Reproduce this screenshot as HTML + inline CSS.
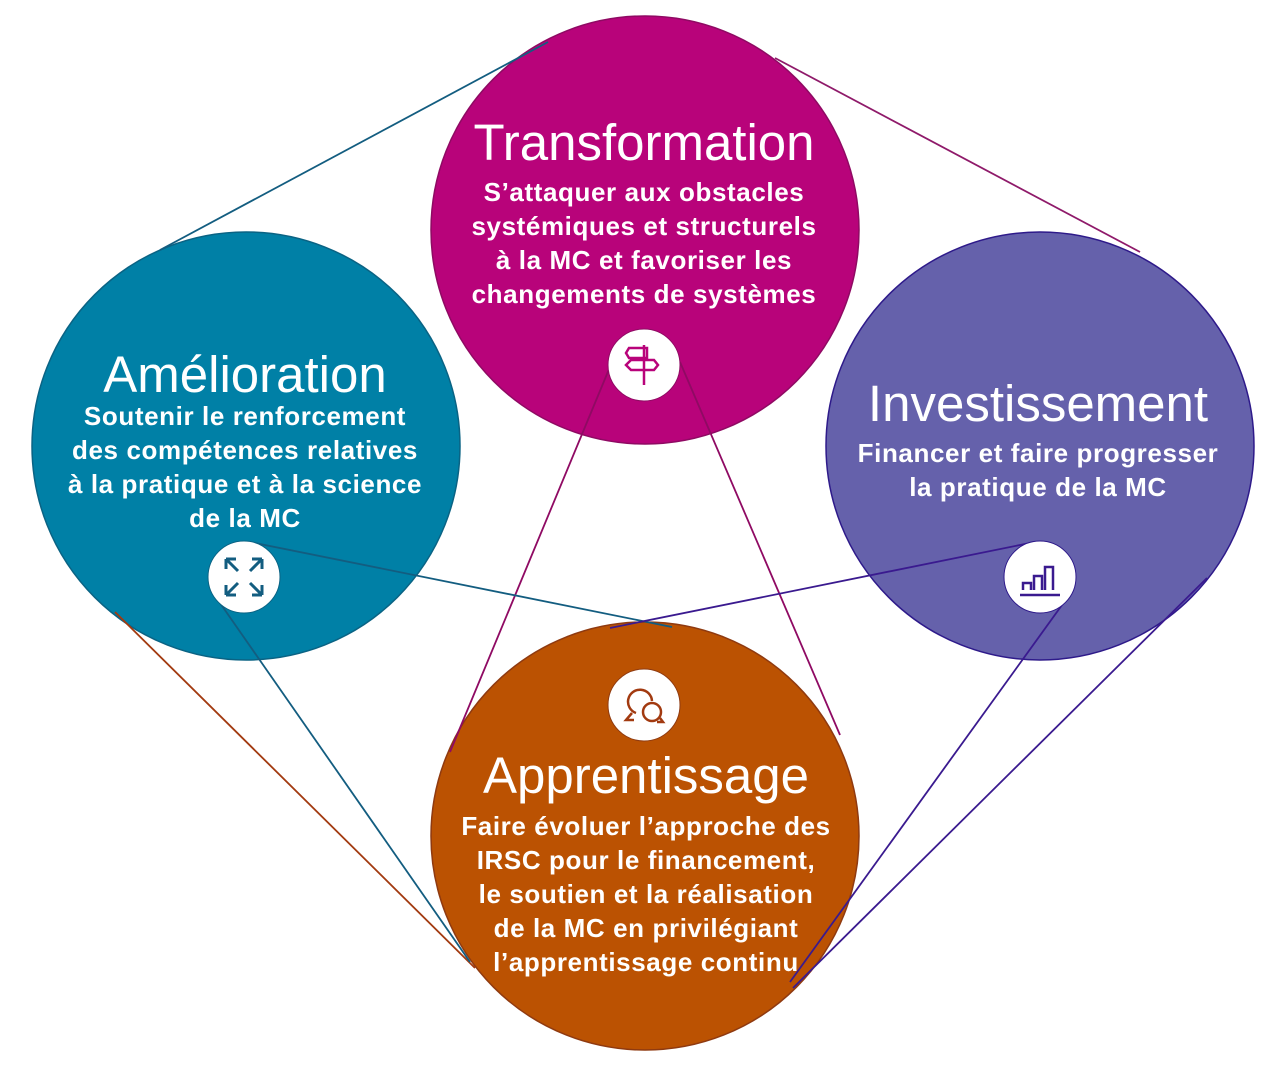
<!DOCTYPE html>
<html><head><meta charset="utf-8"><style>
html,body{margin:0;padding:0;background:#fff;}
svg{display:block}
text{font-family:"Liberation Sans",sans-serif;fill:#fff;text-anchor:middle}
.t{font-size:51px}
.s{font-size:26px;font-weight:bold;letter-spacing:0.6px}
</style></head><body>
<svg width="1275" height="1080" viewBox="0 0 1275 1080">
<circle cx="645" cy="230" r="214" fill="#b8037a" stroke="#8f0a63" stroke-width="1.5"/>
<circle cx="246" cy="446" r="214" fill="#0080a6" stroke="#0a6384" stroke-width="1.5"/>
<circle cx="1040" cy="446" r="214" fill="#6561ab" stroke="#2e1a8a" stroke-width="1.5"/>
<circle cx="645" cy="836" r="214" fill="#bb5202" stroke="#8f3a10" stroke-width="1.5"/>
<g fill="none" stroke-width="1.8">
<line x1="548" y1="42" x2="160" y2="250" stroke="#135d80"/>
<line x1="775" y1="58" x2="1140" y2="252" stroke="#8f1a6a"/>
<line x1="115" y1="612" x2="475" y2="968" stroke="#a23a10"/>
<line x1="1207" y1="578" x2="793" y2="988" stroke="#3a1a8f"/>
<line x1="612" y1="362" x2="450" y2="752" stroke="#8f0a63"/>
<line x1="680" y1="362" x2="840" y2="735" stroke="#8f0a63"/>
<line x1="250" y1="542" x2="672" y2="627" stroke="#135d80"/>
<line x1="1035" y1="542" x2="610" y2="628" stroke="#3a1a8f"/>
<line x1="220" y1="603" x2="470" y2="962" stroke="#135d80"/>
<line x1="1062" y1="605" x2="790" y2="982" stroke="#3a1a8f"/>
</g>
<circle cx="644" cy="365" r="36" fill="#fff" stroke="#8f0a63" stroke-width="1"/>
<circle cx="244" cy="577" r="36" fill="#fff" stroke="#0a6384" stroke-width="1"/>
<circle cx="1040" cy="577" r="36" fill="#fff" stroke="#2e1a8a" stroke-width="1"/>
<circle cx="644" cy="705" r="36" fill="#fff" stroke="#8f3a10" stroke-width="1"/>
<g fill="none" stroke="#b8037a" stroke-width="2.5">
<path d="M644 345v40M629 348h18v10h-18l-3-5zM631 360h23l4 5-4 5h-23l-5-5z"/>
</g>
<g fill="none" stroke="#135d80" stroke-width="3">
<path d="M226 559l12 12M226 559h10M226 559v10M262 559l-12 12M262 559h-10M262 559v10M226 595l12-12M226 595h10M226 595v-10M262 595l-12-12M262 595h-10M262 595v-10"/>
</g>
<g fill="none" stroke="#3a1a8f" stroke-width="2.5">
<path d="M1020 595h40M1023 590v-7h8v7M1034 590v-14h8v14M1045 590v-23h8v23"/>
</g>
<g fill="none" stroke="#a23a10" stroke-width="2.5">
<path d="M636 713a12 12 0 1 1 16-12M632 713l-6 7h8"/>
<circle cx="652" cy="712" r="9"/><path d="M660 718l3 4h-6"/>
</g>
<text class="t" x="644" y="160">Transformation</text>
<text class="s" x="644" y="201">S’attaquer aux obstacles</text>
<text class="s" x="644" y="235">systémiques et structurels</text>
<text class="s" x="644" y="269">à la MC et favoriser les</text>
<text class="s" x="644" y="303">changements de systèmes</text>
<text class="t" x="245" y="392">Amélioration</text>
<text class="s" x="245" y="425">Soutenir le renforcement</text>
<text class="s" x="245" y="459">des compétences relatives</text>
<text class="s" x="245" y="493">à la pratique et à la science</text>
<text class="s" x="245" y="527">de la MC</text>
<text class="t" x="1038" y="421">Investissement</text>
<text class="s" x="1038" y="462">Financer et faire progresser</text>
<text class="s" x="1038" y="496">la pratique de la MC</text>
<text class="t" x="646" y="793">Apprentissage</text>
<text class="s" x="646" y="835">Faire évoluer l’approche des</text>
<text class="s" x="646" y="869">IRSC pour le financement,</text>
<text class="s" x="646" y="903">le soutien et la réalisation</text>
<text class="s" x="646" y="937">de la MC en privilégiant</text>
<text class="s" x="646" y="971">l’apprentissage continu</text>
</svg>
</body></html>
